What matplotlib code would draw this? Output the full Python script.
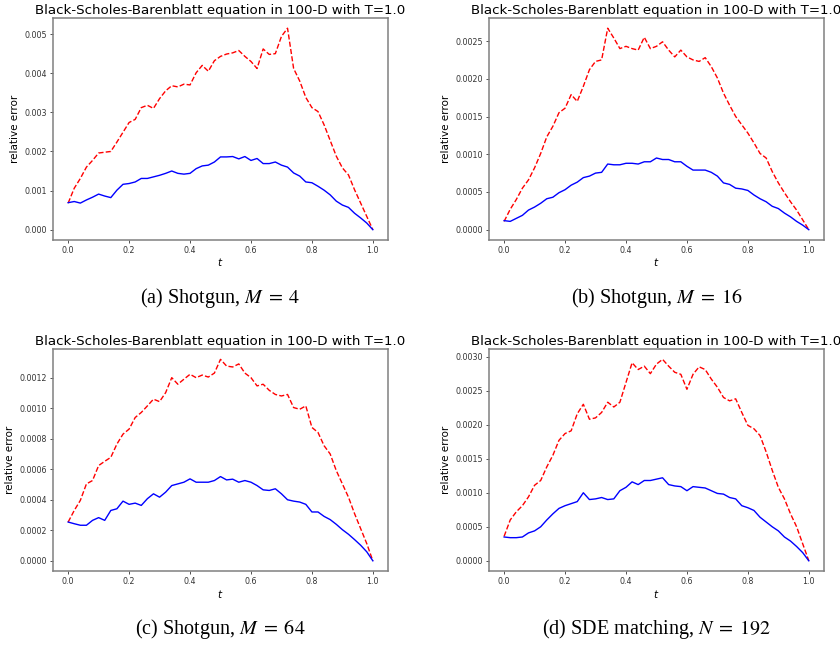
import numpy as np
import matplotlib
matplotlib.use("Agg")
import matplotlib.pyplot as plt

# time grid shared by all panels
t = np.linspace(0.0, 1.0, 51)

# (a) Shotgun, M = 4
a_red = [0.00068, 0.00106, 0.00131, 0.00160, 0.00177, 0.00196, 0.00198, 0.00200, 0.00224, 0.00249,
         0.00274, 0.00282, 0.00312, 0.00318, 0.00310, 0.00335, 0.00355, 0.00368, 0.00365, 0.00372,
         0.00370, 0.00401, 0.00420, 0.00405, 0.00432, 0.00443, 0.00449, 0.00452, 0.00458, 0.00443,
         0.00430, 0.00412, 0.00462, 0.00448, 0.00450, 0.00494, 0.00515, 0.00412, 0.00380, 0.00338,
         0.00312, 0.00302, 0.00268, 0.00228, 0.00188, 0.00158, 0.00140, 0.00102, 0.00068, 0.00034,
         0.00000]
a_blue = [0.00069, 0.00072, 0.00068, 0.00076, 0.00083, 0.00091, 0.00086, 0.00082, 0.00101, 0.00116,
          0.00118, 0.00122, 0.00131, 0.00131, 0.00135, 0.00139, 0.00144, 0.00150, 0.00144, 0.00142,
          0.00144, 0.00156, 0.00163, 0.00165, 0.00173, 0.00186, 0.00186, 0.00187, 0.00181, 0.00187,
          0.00177, 0.00182, 0.00169, 0.00169, 0.00173, 0.00165, 0.00160, 0.00145, 0.00137, 0.00122,
          0.00120, 0.00111, 0.00101, 0.00089, 0.00073, 0.00063, 0.00057, 0.00042, 0.00030, 0.00017,
          0.00000]

# (b) Shotgun, M = 16
b_red = [0.00011, 0.00027, 0.00040, 0.00055, 0.00066, 0.00082, 0.00101, 0.00123, 0.00137, 0.00155,
         0.00161, 0.00179, 0.00170, 0.00190, 0.00212, 0.00223, 0.00225, 0.00267, 0.00254, 0.00240,
         0.00243, 0.00240, 0.00238, 0.00255, 0.00240, 0.00243, 0.00249, 0.00238, 0.00229, 0.00238,
         0.00229, 0.00225, 0.00223, 0.00228, 0.00216, 0.00201, 0.00181, 0.00165, 0.00150, 0.00139,
         0.00128, 0.00115, 0.00101, 0.00095, 0.00077, 0.00062, 0.00049, 0.00037, 0.00026, 0.00013,
         0.00000]
b_blue = [0.00012, 0.00011, 0.00015, 0.00019, 0.00026, 0.00030, 0.00035, 0.00041, 0.00043, 0.00049,
          0.00053, 0.00059, 0.00063, 0.00069, 0.00071, 0.00075, 0.00076, 0.00087, 0.00086, 0.00086,
          0.00088, 0.00088, 0.00087, 0.00090, 0.00090, 0.00095, 0.00093, 0.00093, 0.00090, 0.00090,
          0.00084, 0.00079, 0.00079, 0.00079, 0.00076, 0.00071, 0.00062, 0.00060, 0.00055, 0.00054,
          0.00052, 0.00046, 0.00041, 0.00037, 0.00031, 0.00028, 0.00022, 0.00017, 0.00011, 0.00006,
          0.00000]

# (c) Shotgun, M = 64
c_red = [0.000254, 0.000330, 0.000396, 0.000504, 0.000526, 0.000624, 0.000652, 0.000678, 0.000765, 0.000830,
         0.000863, 0.000939, 0.000972, 0.001015, 0.001059, 0.001043, 0.001102, 0.001200, 0.001157, 0.001190,
         0.001222, 0.001200, 0.001217, 0.001204, 0.001230, 0.001320, 0.001276, 0.001270, 0.001290, 0.001230,
         0.001200, 0.001146, 0.001157, 0.001117, 0.001090, 0.001080, 0.001090, 0.001004, 0.000993, 0.001015,
         0.000874, 0.000841, 0.000754, 0.000700, 0.000591, 0.000504, 0.000417, 0.000309, 0.000211, 0.000113,
         0.000000]
c_blue = [0.000254, 0.000243, 0.000233, 0.000233, 0.000265, 0.000283, 0.000265, 0.000330, 0.000341, 0.000391,
          0.000370, 0.000378, 0.000363, 0.000407, 0.000439, 0.000417, 0.000450, 0.000493, 0.000504, 0.000515,
          0.000537, 0.000515, 0.000515, 0.000515, 0.000526, 0.000552, 0.000530, 0.000535, 0.000515, 0.000526,
          0.000515, 0.000493, 0.000465, 0.000461, 0.000472, 0.000439, 0.000400, 0.000391, 0.000385, 0.000370,
          0.000320, 0.000320, 0.000291, 0.000270, 0.000239, 0.000204, 0.000174, 0.000139, 0.000102, 0.000059,
          0.000000]

# (d) SDE matching, N = 192
d_red = [0.00036, 0.00060, 0.00072, 0.00081, 0.00094, 0.00111, 0.00118, 0.00138, 0.00155, 0.00177,
         0.00187, 0.00191, 0.00216, 0.00230, 0.00208, 0.00210, 0.00218, 0.00233, 0.00226, 0.00233,
         0.00262, 0.00291, 0.00281, 0.00286, 0.00275, 0.00289, 0.00296, 0.00286, 0.00277, 0.00274,
         0.00252, 0.00274, 0.00285, 0.00281, 0.00267, 0.00255, 0.00240, 0.00235, 0.00238, 0.00218,
         0.00199, 0.00194, 0.00184, 0.00160, 0.00133, 0.00108, 0.00091, 0.00069, 0.00050, 0.00025,
         0.00000]
d_blue = [0.00035, 0.00034, 0.00034, 0.00035, 0.00041, 0.00044, 0.00050, 0.00060, 0.00069, 0.00077,
          0.00081, 0.00084, 0.00087, 0.00100, 0.00090, 0.00091, 0.00093, 0.00090, 0.00091, 0.00103,
          0.00108, 0.00116, 0.00112, 0.00118, 0.00118, 0.00120, 0.00122, 0.00112, 0.00110, 0.00109,
          0.00103, 0.00109, 0.00108, 0.00107, 0.00103, 0.00099, 0.00098, 0.00093, 0.00091, 0.00081,
          0.00078, 0.00074, 0.00064, 0.00057, 0.00050, 0.00044, 0.00035, 0.00029, 0.00021, 0.00012,
          0.00000]

title = "Black-Scholes-Barenblatt equation in 100-D with T=1.0"
captions = [r"(a) Shotgun, $M \;=\; 4$", r"(b) Shotgun, $M \;=\; 16$",
            r"(c) Shotgun, $M \;=\; 64$", r"(d) SDE matching, $N \;=\; 192$"]
panels = [(a_red, a_blue), (b_red, b_blue), (c_red, c_blue), (d_red, d_blue)]

# axes boxes in figure fractions [left, bottom, width, height]
boxes = [[0.063, 0.630, 0.399, 0.342], [0.582, 0.630, 0.399, 0.342],
         [0.063, 0.119, 0.399, 0.342], [0.582, 0.119, 0.399, 0.342]]
cap_y = [0.540, 0.540, 0.029, 0.029]

fig = plt.figure(figsize=(8.4, 6.48), dpi=100)

for i, (red, blue) in enumerate(panels):
    ax = fig.add_axes(boxes[i])
    ax.plot(t, red, 'r--', lw=1)
    ax.plot(t, blue, 'b-', lw=1)
    ax.set_title(title, fontsize=9.6, pad=3)
    ax.set_xlabel('$t$', fontsize=7.5, labelpad=1)
    ax.set_ylabel('relative error', fontsize=7.5, labelpad=3)
    ax.tick_params(labelsize=5.7, length=2.5, width=0.6, pad=2, colors='#333333')
    for s in ax.spines.values():
        s.set_color('#808080')
        s.set_linewidth(1.1)
    cx = boxes[i][0] + boxes[i][2] / 2
    fig.text(cx, cap_y[i], captions[i], ha='center', va='center', fontsize=14.5,
             family='Liberation Serif', math_fontfamily='stix')

fig.savefig("out.png", dpi=100)
